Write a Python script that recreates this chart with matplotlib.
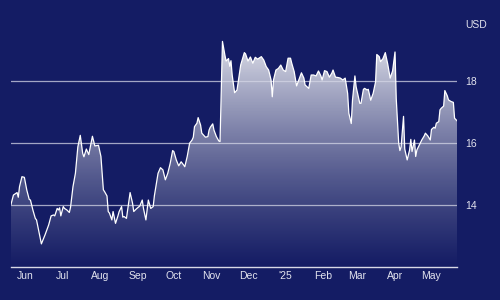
import numpy as np
import pandas as pd
import matplotlib
matplotlib.use('Agg')
import matplotlib.pyplot as plt
import matplotlib.dates as mdates
from matplotlib.colors import to_rgb
from matplotlib.patches import Polygon
from matplotlib.ticker import FuncFormatter

# price series (days after the first date)
start_date = pd.Timestamp('2024-05-20')
day_offsets = [
    0, 2, 5, 6, 7, 9, 11, 13, 15, 16, 18, 20, 21, 25, 28, 31, 33, 35, 36, 38,
    39, 40, 41, 43, 44, 46, 48, 49, 51, 53, 55, 57, 59, 60, 62, 64, 67, 69, 72, 74,
    76, 77, 79, 80, 81, 83, 84, 86, 88, 89, 91, 92, 93, 95, 98, 100, 101, 103, 106, 108,
    109, 111, 113, 115, 117, 118, 121, 123, 125, 127, 129, 131, 133, 134, 136, 138, 140, 142, 143, 145,
    147, 149, 150, 151, 153, 154, 156, 157, 160, 162, 163, 164, 166, 167, 169, 171, 172, 174, 176, 177,
    179, 180, 181, 182, 184, 186, 189, 192, 193, 195, 197, 199, 201, 203, 204, 206, 208, 210, 212, 214,
    215, 216, 218, 220, 222, 224, 226, 228, 230, 231, 233, 235, 237, 239, 241, 242, 245, 247, 249, 251,
    253, 255, 256, 258, 260, 262, 264, 265, 267, 269, 271, 273, 275, 277, 278, 280, 281, 283, 284, 287,
    288, 290, 291, 293, 294, 296, 298, 300, 301, 303, 304, 306, 308, 310, 312, 314, 316, 317, 319, 320,
    321, 323, 324, 326, 328, 329, 330, 332, 333, 334, 336, 338, 340, 341, 343, 345, 346, 348, 349, 350,
    352, 353, 354, 356, 357, 359, 360, 362, 364, 365, 367,
]
prices = [
    14.02, 14.32, 14.40, 14.25, 14.59, 14.91, 14.89, 14.48, 14.18, 14.16, 13.84, 13.57, 13.52, 12.75, 13.04, 13.36, 13.65, 13.68, 13.65, 13.89,
    13.84, 13.91, 13.65, 13.95, 13.89, 13.84, 13.76, 13.93, 14.59, 15.02, 15.87, 16.24, 15.66, 15.55, 15.80, 15.62, 16.21, 15.90, 15.92, 15.56,
    14.49, 14.43, 14.29, 13.79, 13.74, 13.52, 13.79, 13.41, 13.65, 13.79, 13.95, 13.61, 13.63, 13.57, 14.40, 14.06, 13.79, 13.87, 13.97, 14.16,
    13.89, 13.52, 14.16, 13.89, 13.95, 14.30, 15.02, 15.20, 15.13, 14.81, 15.02, 15.34, 15.75, 15.72, 15.45, 15.26, 15.39, 15.29, 15.23, 15.56,
    15.99, 16.09, 16.18, 16.52, 16.63, 16.81, 16.57, 16.31, 16.18, 16.20, 16.41, 16.50, 16.61, 16.41, 16.20, 16.06, 16.04, 19.26, 18.82, 18.63,
    18.71, 18.46, 18.64, 18.18, 17.61, 17.70, 18.50, 18.90, 18.86, 18.63, 18.76, 18.56, 18.75, 18.69, 18.72, 18.77, 18.66, 18.45, 18.34, 18.02,
    17.48, 18.02, 18.34, 18.39, 18.50, 18.34, 18.29, 18.72, 18.72, 18.56, 18.29, 17.83, 18.04, 18.25, 18.08, 17.86, 17.75, 18.18, 18.18, 18.15,
    18.31, 18.15, 18.02, 18.32, 18.29, 18.11, 18.24, 18.34, 18.11, 18.10, 18.08, 18.02, 18.08, 17.59, 16.95, 16.62, 17.37, 18.15, 17.80, 17.27,
    17.27, 17.72, 17.75, 17.70, 17.72, 17.37, 17.59, 17.96, 18.84, 18.77, 18.61, 18.70, 18.90, 18.53, 18.08, 18.31, 18.92, 17.42, 16.00, 15.75,
    15.87, 16.85, 15.80, 15.45, 15.77, 16.11, 15.72, 16.09, 15.56, 15.77, 15.93, 16.09, 16.22, 16.31, 16.22, 16.09, 16.43, 16.50, 16.47, 16.63,
    16.68, 17.06, 17.11, 17.18, 17.68, 17.51, 17.38, 17.33, 17.30, 16.79, 16.71,
]
y_ticks = [14, 16, 18]
y_min, y_max = 12, 19.9
currency = 'USD'

BG = '#141c64'
TEXT = '#e2e3ee'


def month_label(v, pos=None):
    d = mdates.num2date(v)
    if d.month == 1:
        return "'" + d.strftime('%y')
    return d.strftime('%b')


def main():
    plt.rcParams['font.family'] = ['Liberation Sans', 'DejaVu Sans']

    dates = start_date + pd.to_timedelta(day_offsets, unit='D')
    x = mdates.date2num(dates)
    y = np.array(prices)

    fig = plt.figure(figsize=(5, 3), dpi=100, facecolor=BG)
    ax = fig.add_axes([0.022, 0.1093, 0.892, 0.819])
    ax.set_facecolor(BG)
    ax.set_xlim(x[0], x[-1])
    ax.set_ylim(y_min, y_max)

    # gradient area under the line
    verts = np.column_stack([np.r_[x, x[::-1]], np.r_[y, np.full(len(y), y_min)]])
    area = Polygon(verts, closed=True, facecolor='none', edgecolor='none')
    ax.add_patch(area)

    levels = np.linspace(y_min, y_max, 256)
    t = np.clip((levels - y_min) / 7.5, 0, 1)
    bg = np.array(to_rgb(BG))
    img = np.zeros((256, 1, 4))
    img[:, 0, :3] = bg + t[:, None] * (1 - bg)
    img[:, 0, 3] = 0.6 + 0.3 * t
    im = ax.imshow(img, extent=[x[0], x[-1], y_min, y_max], origin='lower',
                   aspect='auto', interpolation='bilinear', zorder=1)
    im.set_clip_path(area)

    # gridlines sit over the area, a bit see-through
    for v in y_ticks:
        ax.axhline(v, color='#d4d6e6', alpha=0.75, lw=0.9, zorder=2)

    ax.plot(x, y, color='white', lw=0.9, zorder=3)

    for s in ['top', 'left', 'right']:
        ax.spines[s].set_visible(False)
    ax.spines['bottom'].set_color('#d8d9e6')
    ax.spines['bottom'].set_linewidth(1.0)

    ax.yaxis.tick_right()
    ax.set_yticks(y_ticks)
    ax.tick_params(axis='y', length=0, pad=5.8, labelsize=7.5, labelcolor=TEXT)

    ax.xaxis.set_major_locator(mdates.MonthLocator())
    ax.xaxis.set_major_formatter(FuncFormatter(month_label))
    ax.tick_params(axis='x', length=0, pad=3, labelsize=7.5, labelcolor=TEXT)

    ax.annotate(currency, xy=(1, 1), xycoords='axes fraction', xytext=(5.8, -2.5),
                textcoords='offset points', ha='left', va='center',
                fontsize=7.5, color=TEXT)

    fig.savefig('out.png', dpi=100, facecolor=BG)


if __name__ == '__main__':
    main()
